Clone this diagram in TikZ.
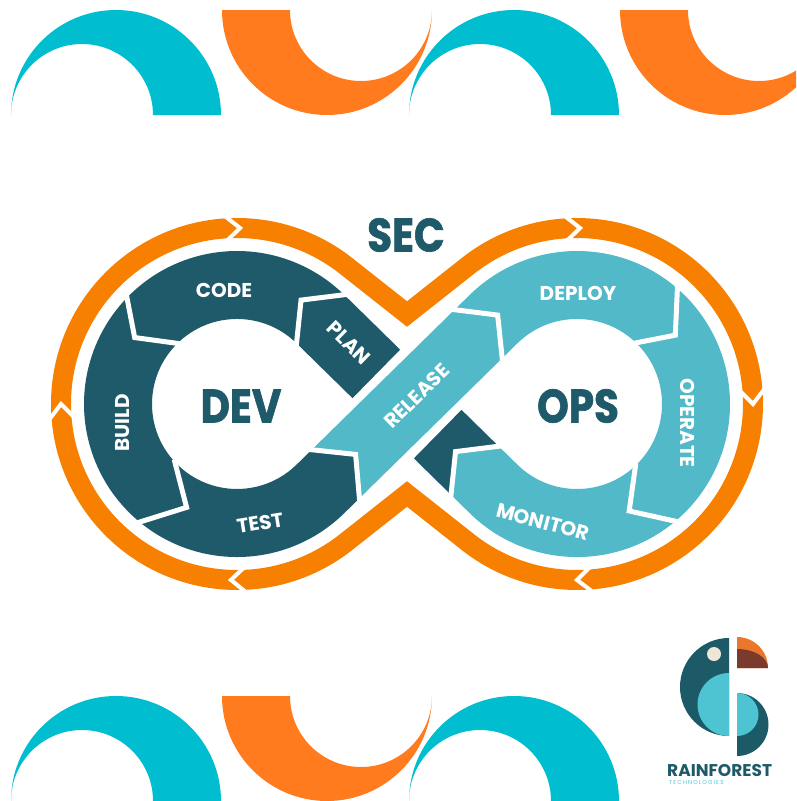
\documentclass[tikz,border=0pt]{standalone}
\usepackage{fontspec}
\usetikzlibrary{calc}
\newfontfamily\pop{Poppins}
\newfontfamily\popheavy{Poppins}[BoldFeatures={FakeBold=1.4}]
\newfontfamily\popspaced{Poppins}[LetterSpace=20]
\definecolor{decocyan}{RGB}{0,190,208}
\definecolor{decoorange}{RGB}{255,123,30}
\definecolor{ringorange}{RGB}{247,128,0}
\definecolor{devteal}{RGB}{31,90,106}
\definecolor{opsteal}{RGB}{81,185,200}
\definecolor{logodark}{RGB}{28,90,104}
\definecolor{logocyan}{RGB}{78,195,210}
\definecolor{logocream}{RGB}{238,230,214}
\definecolor{logoorange}{RGB}{233,120,45}
\definecolor{logobrown}{RGB}{123,58,46}
% points on the two diagonal bands: (name, distance along band, offset across band)
\newcommand\bandRpt[3]{\coordinate (#1) at ({407+0.7139*(#2)+0.7002*(#3)},{404-0.7002*(#2)+0.7139*(#3)});}
\newcommand\bandPpt[3]{\coordinate (#1) at ({407+0.7139*(#2)+0.7002*(#3)},{404+0.7002*(#2)-0.7139*(#3)});}
\begin{document}
\begin{tikzpicture}[x=1pt,y=-1pt,
  ringgap/.style={white,line width=4pt,line join=miter},
  stagegap/.style={white,line width=5pt,line join=miter,line cap=rect},
  lab/.style={text=white,inner sep=0pt,font={\pop\bfseries\fontsize{20pt}{20pt}\selectfont}},
  bigword/.style={text=devteal,inner sep=0pt,xscale=0.86,font={\popheavy\bfseries\fontsize{47pt}{47pt}\selectfont}}]
\useasboundingbox (0,0) rectangle (796,801);
\clip (0,0) rectangle (796,801);

% ---- decorative arches, top row ----
\foreach \X in {11,409}{
  \fill[decocyan] (\X,115) arc[start angle=180,end angle=360,radius=105]
    -- ++(-68,0) arc[start angle=0,end angle=-180,radius=71] -- cycle;}
\foreach \X in {222,620}{
  \fill[decoorange] (\X+210,10) arc[start angle=0,end angle=180,radius=105]
    -- ++(68,0) arc[start angle=180,end angle=0,radius=71] -- cycle;}
% ---- decorative arches, bottom row ----
\foreach \X in {11,409}{
  \fill[decocyan] (\X,801) arc[start angle=180,end angle=360,radius=105]
    -- ++(-68,0) arc[start angle=0,end angle=-180,radius=71] -- cycle;}
\fill[decoorange] (432,696) arc[start angle=0,end angle=180,radius=105]
    -- ++(68,0) arc[start angle=180,end angle=0,radius=71] -- cycle;

% ---- centres of the two loops ----
\coordinate (L) at (237,404);
\coordinate (R) at (577,404);
\coordinate (Vt) at (407,314);
\coordinate (Vb) at (407,494);

% ---- orange SEC ring ----
\draw[ringorange,line width=20pt,line join=miter]
  ($(L)+(180:176)$) arc[start angle=180,end angle=308.3,radius=176]
  -- (Vt) -- ($(R)+(231.7:176)$) arc[start angle=231.7,end angle=488.3,radius=176]
  -- (Vb) -- ($(L)+(51.7:176)$) arc[start angle=51.7,end angle=180,radius=176] -- cycle;
\foreach \C/\a in {L/180,L/271,L/92,R/271,R/360,R/90}
  \draw[ringgap] ($(\C)+(\a-5.6:191)$) -- ($(\C)+(\a:176)$) -- ($(\C)+(\a-5.6:161)$);

% ---- stage boundaries ----
\bandPpt{s1O}{-121.4}{34} \bandPpt{s1V}{-148.4}{0} \bandPpt{s1I}{-121.4}{-34}
\coordinate (s2O) at ($(L)+(224:153)$);
\coordinate (s2V) at ($(L)+(213:122)$);
\coordinate (s2I) at ($(L)+(225.5:85)$);
\coordinate (s3O) at ($(L)+(129.5:153)$);
\coordinate (s3V) at ($(L)+(116:115)$);
\coordinate (s3I) at ($(L)+(137:85)$);
\bandRpt{s4O}{-100}{34} \bandRpt{s4V}{-72}{0} \bandRpt{s4I}{-100}{-34}
\bandRpt{s5O}{100}{-34} \bandRpt{s5V}{127}{0} \bandRpt{s5I}{100}{34}
\coordinate (s6O) at ($(R)+(311:153)$);
\coordinate (s6V) at ($(R)+(325:120)$);
\coordinate (s6I) at ($(R)+(314:85)$);
\coordinate (s7O) at ($(R)+(50:153)$);
\coordinate (s7V) at ($(R)+(64:119)$);
\coordinate (s7I) at ($(R)+(46.5:85)$);
\bandPpt{s8O}{95}{-34} \bandPpt{s8V}{68}{0} \bandPpt{s8I}{95}{34}
% band ends at the loops and beside the crossing
\bandRpt{tL}{-121.4}{34}
\bandRpt{tR}{121.4}{34}
\bandPpt{pR}{121.4}{-34}
\bandPpt{xa}{-43}{34} \bandPpt{xb}{-43}{-34}
\bandPpt{xc}{43}{34} \bandPpt{xd}{43}{-34}

% ---- DEV loop ----
\fill[devteal] (xb) -- (s1I) -- (s1V) -- (s1O) -- (xa) -- cycle; % PLAN
\fill[devteal] (s1O) -- (s1V) -- (s1I) arc[start angle=-45.57,end angle=-134.5,radius=85]
  -- (s2V) -- (s2O) arc[start angle=-136,end angle=-45.57,radius=153] -- cycle; % CODE
\fill[devteal] (s2O) -- (s2V) -- (s2I) arc[start angle=225.5,end angle=137,radius=85]
  -- (s3V) -- (s3O) arc[start angle=129.5,end angle=224,radius=153] -- cycle; % BUILD
\fill[devteal] (s3O) -- (s3V) -- (s3I) arc[start angle=137,end angle=45.57,radius=85]
  -- (s4I) -- (s4V) -- (s4O) -- (tL) arc[start angle=45.57,end angle=129.5,radius=153] -- cycle; % TEST
\fill[devteal] (xc) -- (s8I) -- (s8V) -- (s8O) -- (xd) -- cycle; % start of PLAN band

% ---- OPS loop ----
\fill[opsteal] (s5O) -- (s5V) -- (s5I) -- (tR) arc[start angle=225.57,end angle=314,radius=85]
  -- (s6V) -- (s6O) arc[start angle=311,end angle=225.57,radius=153] -- cycle; % DEPLOY
\fill[opsteal] (s6O) -- (s6V) -- (s6I) arc[start angle=314,end angle=406.5,radius=85]
  -- (s7V) -- (s7O) arc[start angle=410,end angle=311,radius=153] -- cycle; % OPERATE
\fill[opsteal] (s7O) -- (s7V) -- (s7I) arc[start angle=46.5,end angle=134.43,radius=85]
  -- (s8I) -- (s8V) -- (s8O) -- (pR) arc[start angle=134.43,end angle=50,radius=153] -- cycle; % MONITOR
\fill[opsteal] (s4O) -- (s4V) -- (s4I) -- (s5O) -- (s5V) -- (s5I) -- cycle; % RELEASE

% ---- white joints between stages ----
\foreach \k in {1,...,8}
  \draw[stagegap] (s\k O) -- (s\k V) -- (s\k I);

% ---- stage labels ----
\node[lab] (code) at (224,290) {CODE};
\node[lab,rotate=-44.4] (plan) at (349,343) {PLAN};
\node[lab,rotate=90] (build) at (123,423) {BUILD};
\node[lab,rotate=9] (test) at (260,523) {TEST};
\node[lab,rotate=44.4] (release) at (417,396) {RELEASE};
\node[lab] (deploy) at (578,293) {DEPLOY};
\node[lab,rotate=-90] (operate) at (688,423) {OPERATE};
\node[lab,rotate=-15] (monitor) at (543,522) {MONITOR};

\node[bigword] (dev) at (241,406) {DEV};
\node[bigword] (ops) at (578,406) {OPS};
\node[bigword] (sec) at (406,235) {SEC};

% ---- company mark ----
\fill[logodark] (729,638) arc[start angle=-90,end angle=-270,radius=49] -- cycle;
\fill[logocyan] (729,673) arc[start angle=-90,end angle=-270,radius=31.5] -- cycle;
\fill[logocream] (714,654) circle[radius=7];
\fill[logoorange] (737,668) -- (737,637) arc[start angle=-90,end angle=0,radius=31] -- cycle;
\fill[logobrown] (737,668) -- (737,649) arc[start angle=-90,end angle=0,x radius=31,y radius=19] -- cycle;
\fill[logodark] (737,693) arc[start angle=-90,end angle=90,radius=31.5] -- cycle;
\fill[logocyan] (737,693) arc[start angle=-90,end angle=90,radius=21.5] -- cycle;
\node[anchor=west,inner sep=0pt,text=logodark,font={\pop\bfseries\fontsize{17pt}{17pt}\selectfont}] (brand) at (667,770) {RAINFOREST};
\node[anchor=west,inner sep=0pt,text=logocyan,font={\popspaced\fontsize{5.7pt}{6pt}\selectfont}] (tagline) at (669,782.5) {TECHNOLOGIES};
\end{tikzpicture}
\end{document}
